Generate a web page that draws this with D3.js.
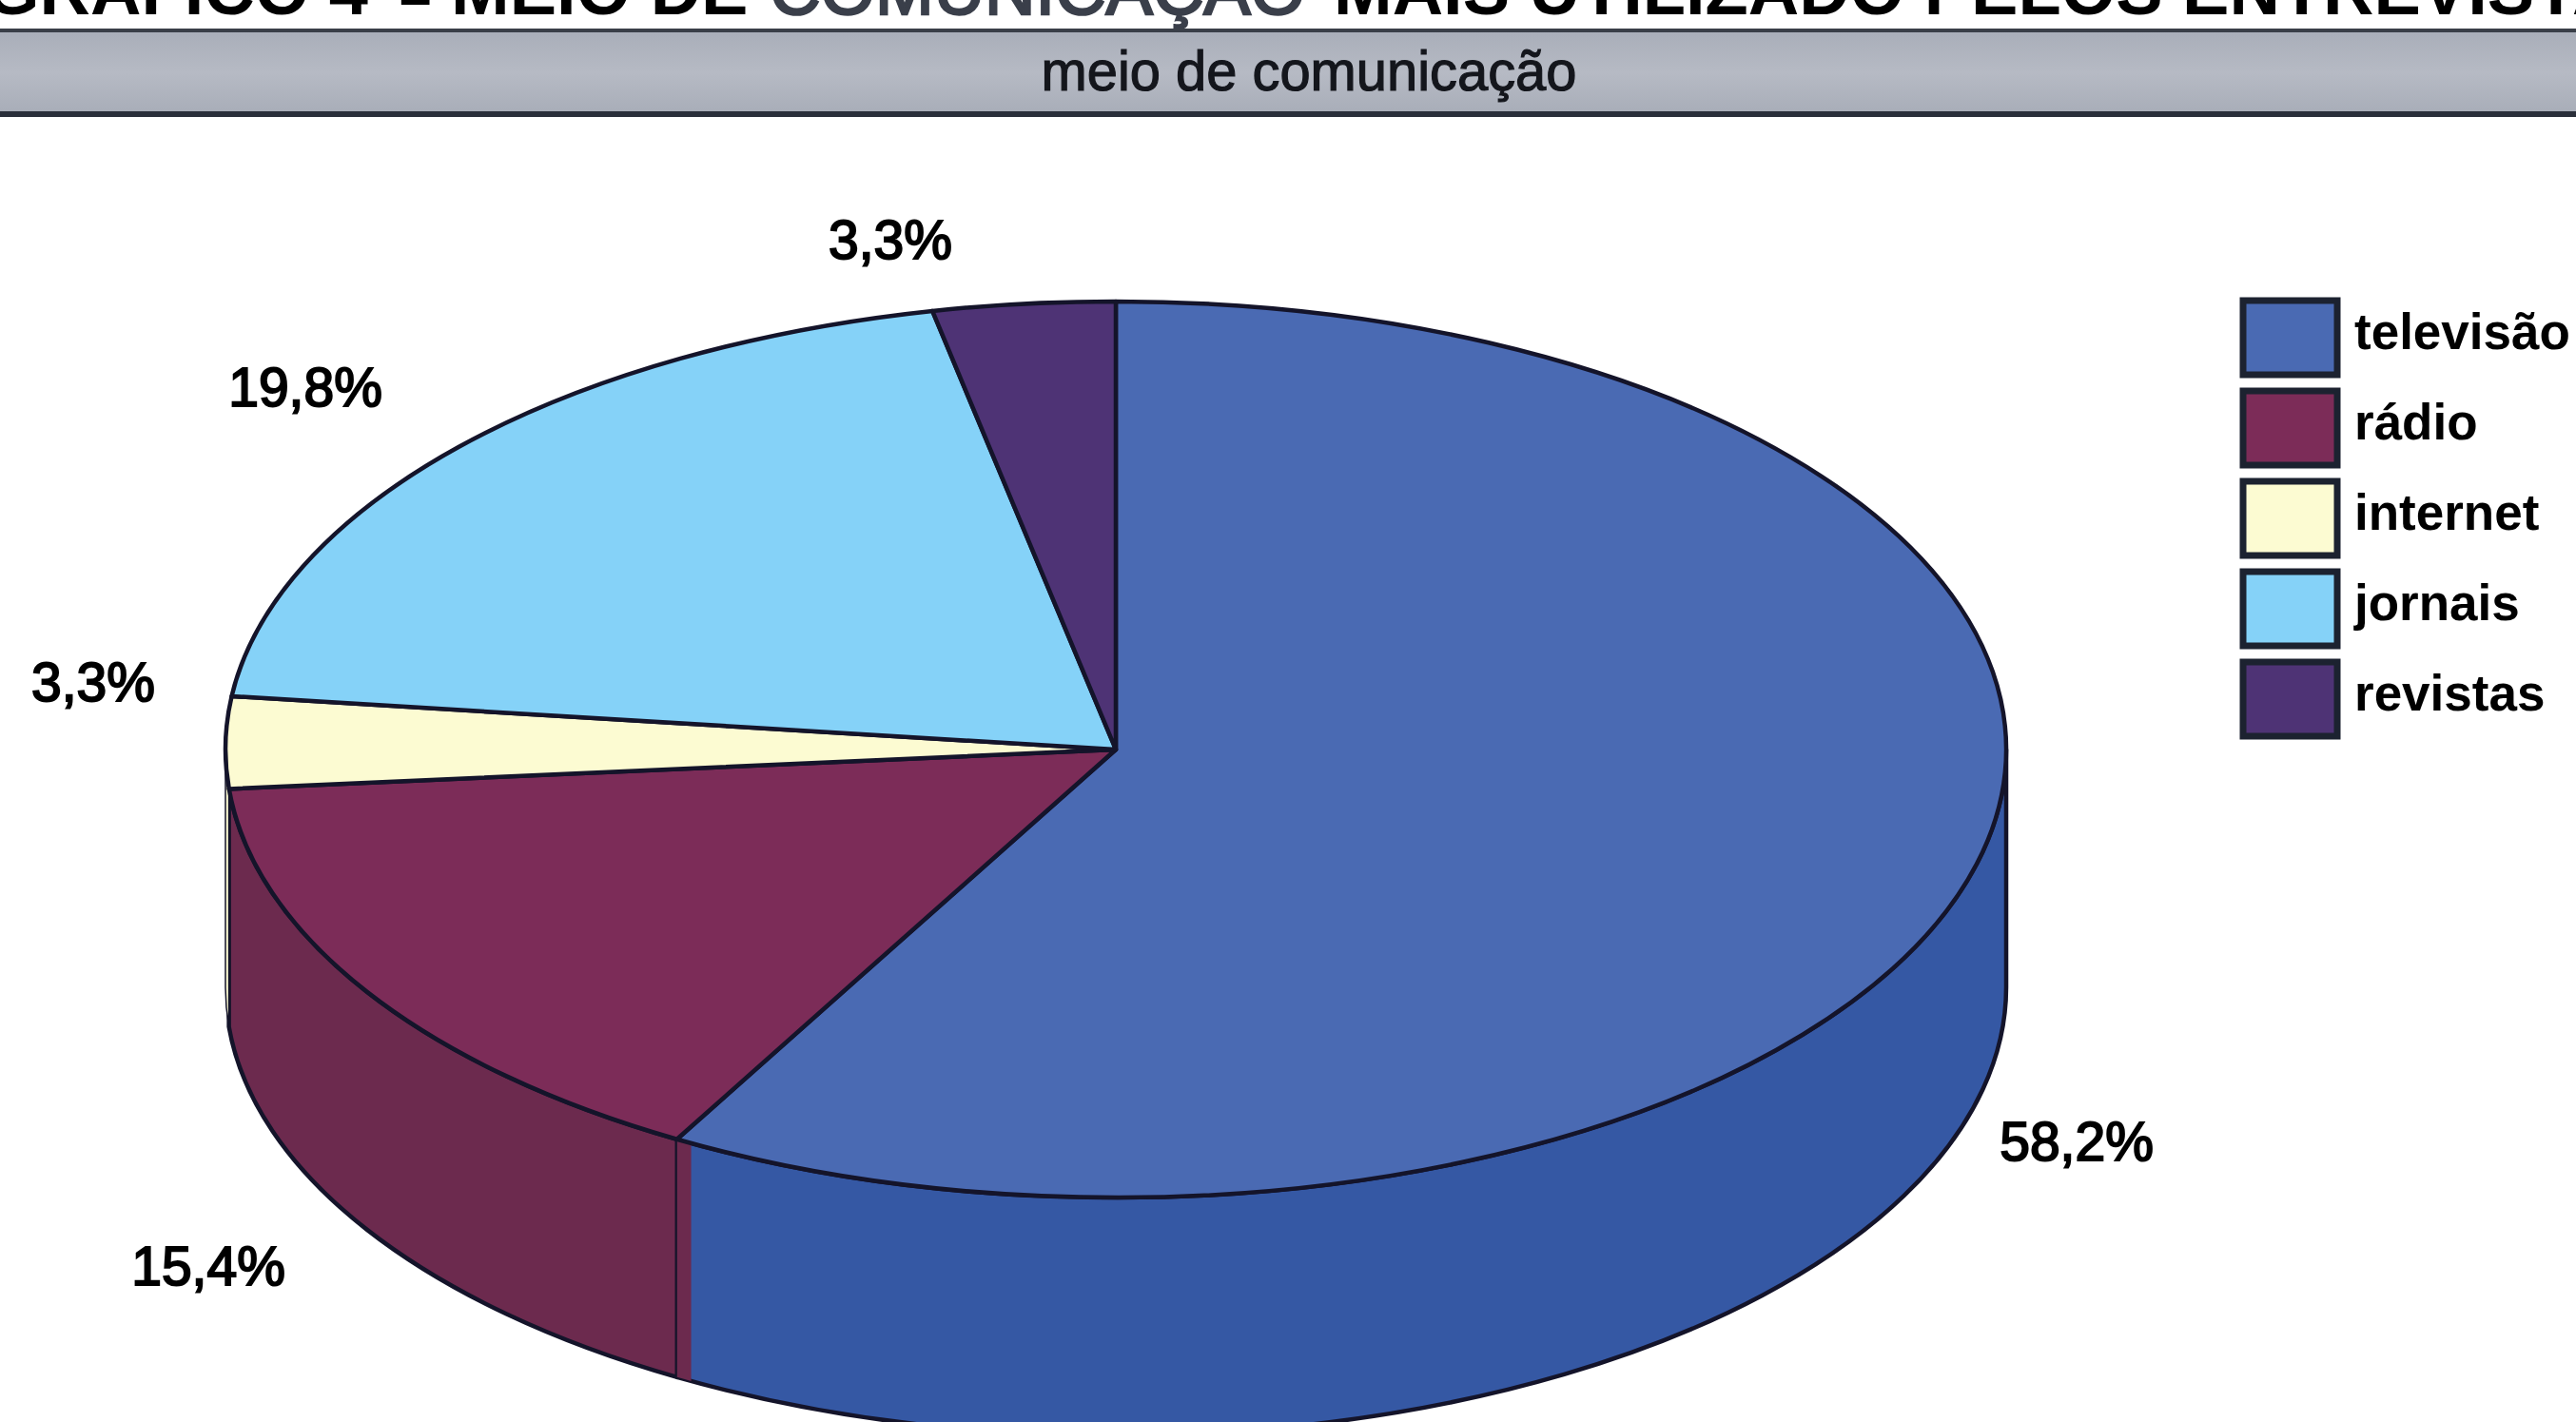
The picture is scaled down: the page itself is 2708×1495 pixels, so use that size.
<!DOCTYPE html>
<html lang="pt">
<head>
<meta charset="utf-8">
<title>Meio de comunicação</title>
<script src="https://cdn.jsdelivr.net/npm/d3@7"></script>
<style>
  html, body { margin: 0; padding: 0; background: #fff; overflow: hidden; }
  text { font-family: "Liberation Sans", Arial, sans-serif; fill: #000; }
</style>
</head>
<body>
<svg id="chart" width="2708" height="1495"></svg>
<script>
// Survey shares per medium, clockwise from twelve o'clock.
const categories = ["televisão", "rádio", "internet", "jornais", "revistas"];
const shares = [58.2, 15.4, 3.3, 19.8, 3.3];
const topColors = ["#4a6ab3", "#7c2c58", "#fcfbd2", "#85d2f8", "#4e3375"];
const wallColors = ["#3558a4", "#6c2a4e", "#fcfbd2", "#6fb6d8", "#3f2a60"];
const titleParts = ["GRÁFICO 4", "–", "MEIO DE", "COMUNICAÇÃO", "MAIS UTILIZADO PELOS ENTREVISTADOS"];
const bandLabel = "meio de comunicação";

const svg = d3.select("#chart");
const W = 2708;
const ink = "#14142a";
const cx = 1173, cy = 788, rx = 936, ry = 471, wallDepth = 250;

// Header: heading cut by the page edge, then the grey band.
const defs = svg.append("defs");
const bandGrad = defs.append("linearGradient").attr("id", "band")
  .attr("x1", 0).attr("y1", 0).attr("x2", 0).attr("y2", 1);
bandGrad.append("stop").attr("offset", 0).attr("stop-color", "#a9aeb9");
bandGrad.append("stop").attr("offset", 0.5).attr("stop-color", "#b6bac4");
bandGrad.append("stop").attr("offset", 1).attr("stop-color", "#a8adb8");

const headingX = [-16, 420, 474, 809, 1402];
const headingMuted = 3, headingDash = 1;
svg.selectAll("text.heading").data(titleParts).join("text")
  .attr("class", "heading")
  .attr("x", (d, i) => headingX[i])
  .attr("y", (d, i) => i === headingDash ? 18 : 15)
  .attr("font-size", (d, i) => i === headingDash ? 60 : 74)
  .attr("font-weight", (d, i) => i === headingMuted ? 400 : 700)
  .attr("stroke", (d, i) => i === headingMuted ? "#3a3f4a" : "none")
  .attr("stroke-width", 2.5)
  .style("fill", (d, i) => i === headingMuted ? "#3a3f4a" : "#000")
  .text(d => d);

svg.append("rect").attr("x", 0).attr("y", 33).attr("width", W).attr("height", 87)
  .attr("fill", "url(#band)");
svg.append("line").attr("x1", 0).attr("x2", W).attr("y1", 32).attr("y2", 32)
  .attr("stroke", "#3a3f48").attr("stroke-width", 4);
svg.append("line").attr("x1", 0).attr("x2", W).attr("y1", 120).attr("y2", 120)
  .attr("stroke", "#2a2f3a").attr("stroke-width", 6);
svg.append("text").attr("x", 1376).attr("y", 95).attr("text-anchor", "middle")
  .attr("font-size", 60).attr("textLength", 563).attr("lengthAdjust", "spacingAndGlyphs")
  .attr("stroke", "#14161c").attr("stroke-width", 1.2)
  .style("fill", "#14161c").text(bandLabel);

// Pie: drawn on a unit circle, flattened to an ellipse by the group transform.
const arcs = d3.pie().sort(null).value(d => d)(shares);
const plot = svg.append("g")
  .attr("transform", `translate(${cx},${cy}) scale(${rx},${ry})`);
const depth = wallDepth / ry;
const front0 = Math.PI / 2, front1 = Math.PI * 3 / 2;

function wallPath(a0, a1) {
  const p = d3.path();
  p.arc(0, 0, 1, a0 - Math.PI / 2, a1 - Math.PI / 2);
  p.arc(0, depth, 1, a1 - Math.PI / 2, a0 - Math.PI / 2, true);
  p.closePath();
  return p.toString();
}

const hair = sel => sel.attr("vector-effect", "non-scaling-stroke")
  .attr("stroke", ink).attr("stroke-linejoin", "round");

// Side wall of the slices facing the viewer; the pale internet sliver keeps a finer edge.
arcs.forEach((d, i) => {
  const a0 = Math.max(d.startAngle, front0), a1 = Math.min(d.endAngle, front1);
  if (a1 <= a0) return;
  plot.append("path").attr("d", wallPath(a0, a1)).attr("fill", wallColors[i])
    .call(hair).attr("stroke-width", i === 2 ? 1.5 : 4.5);
});

// Thin shaded strip beside the television/rádio seam.
const seam = arcs[0].endAngle;
plot.append("path").attr("d", wallPath(seam - 0.018, seam)).attr("fill", wallColors[1])
  .attr("stroke", "none");
plot.append("path").attr("d", wallPath(seam, seam)).call(hair)
  .attr("fill", "none").attr("stroke-width", 5);

// Top face.
const arc = d3.arc().innerRadius(0).outerRadius(1);
plot.selectAll("path.slice").data(arcs).join("path")
  .attr("class", "slice")
  .attr("d", arc)
  .attr("fill", (d, i) => topColors[i])
  .call(hair).attr("stroke-width", 4.5);

// Value labels beside the pie, in the same order as the shares.
const labelAt = [[2183, 1220], [219, 1351], [98, 737], [321, 427], [936, 272]];
const valueText = v => d3.format(".1f")(v).replace(".", ",") + "%";
svg.selectAll("text.value").data(shares).join("text")
  .attr("class", "value")
  .attr("x", (d, i) => labelAt[i][0])
  .attr("y", (d, i) => labelAt[i][1])
  .attr("text-anchor", "middle")
  .attr("font-size", 57)
  .attr("stroke", "#000").attr("stroke-width", 2)
  .text(valueText);

// Legend.
const legendY = d3.scaleBand().domain(categories).range([313, 776.6]).paddingInner(0.12).paddingOuter(0);
const legend = svg.append("g");
legend.selectAll("rect").data(categories).join("rect")
  .attr("x", 2358).attr("width", 99)
  .attr("y", d => legendY(d) + 3)
  .attr("height", 78)
  .attr("fill", (d, i) => topColors[i])
  .attr("stroke", "#1c2230").attr("stroke-width", 7);
legend.selectAll("text").data(categories).join("text")
  .attr("x", 2475)
  .attr("y", d => legendY(d) + 54)
  .attr("font-size", 53)
  .attr("font-weight", 700)
  .text(d => d);
</script>
</body>
</html>
